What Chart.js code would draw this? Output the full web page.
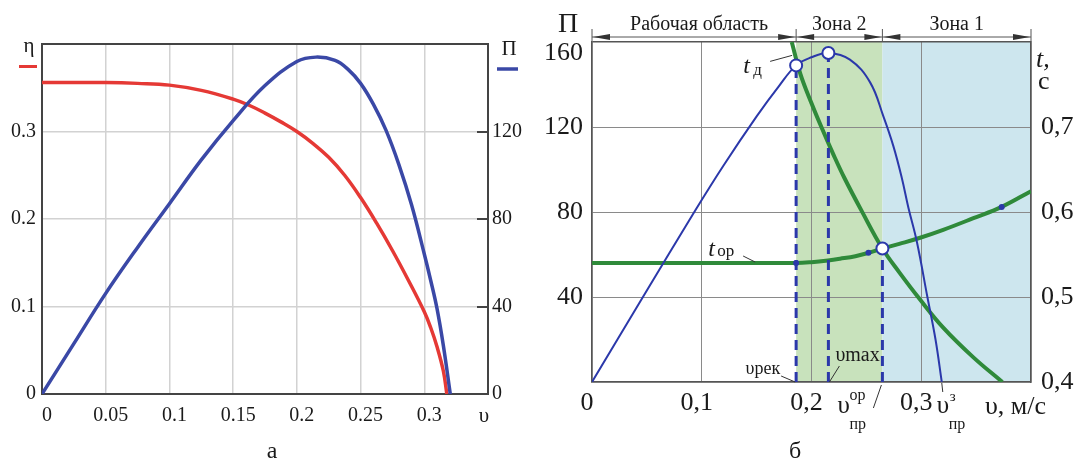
<!DOCTYPE html>
<html>
<head>
<meta charset="utf-8">
<script src="https://cdn.jsdelivr.net/npm/chart.js@4.4.1/dist/chart.umd.min.js"></script>
<style>
  html, body { margin: 0; padding: 0; background: #fff; }
  #wrap { position: relative; width: 1078px; height: 461px; overflow: hidden; }
  #cA { position: absolute; left: 0; top: 0; }
  #cB { position: absolute; left: 540px; top: 0; }
</style>
</head>
<body>
<div id="wrap">
  <canvas id="cA" width="540" height="461"></canvas>
  <canvas id="cB" width="538" height="461"></canvas>
</div>
<script>
/* ── chart а: η and П against υ ── */
var ETA_V = [0, 0.025, 0.05, 0.075, 0.1, 0.125, 0.15, 0.1625, 0.175, 0.1875, 0.2, 0.2125, 0.225, 0.2375, 0.25, 0.2625, 0.275, 0.2875, 0.3, 0.305, 0.31, 0.315, 0.3177];
var ETA   = [0.356, 0.356, 0.356, 0.355, 0.353, 0.347, 0.337, 0.330, 0.321, 0.311, 0.300, 0.2865, 0.2705, 0.2500, 0.2245, 0.1955, 0.164, 0.130, 0.094, 0.076, 0.054, 0.026, 0];

var PI_A_V = [0, 0.025, 0.05, 0.075, 0.1, 0.125, 0.15, 0.175, 0.2, 0.215, 0.23, 0.24, 0.25, 0.26, 0.27, 0.28, 0.29, 0.3, 0.305, 0.31, 0.315, 0.3204];
var PI_A   = [0, 23, 46, 67, 87, 107, 125, 141, 152, 154, 152.5, 148.5, 142, 132.5, 120.5, 105, 86.5, 64, 52, 39, 22, 0];

var X_LABELS_A = ['0', '0.05', '0.1', '0.15', '0.2', '0.25', '0.3', ''];
var Y_LABELS_A = ['0', '0.1', '0.2', '0.3', ''];
var P_LABELS_A = ['0', '40', '80', '120', ''];

/* ── chart б: П, t_ор, t_д against υ ── */
var PI_B_V = [0, 0.0464, 0.0932, 0.12, 0.15, 0.17, 0.186, 0.2, 0.2154, 0.235, 0.2534, 0.2655, 0.2746, 0.2823, 0.2883, 0.296, 0.3056, 0.313, 0.3187];
var PI_B   = [0, 40, 80, 102, 125, 139, 149, 152.8, 154.8, 151.7, 141, 125, 111, 96, 82, 66, 40, 20, 0];

var T_OR_V = [0, 0.1, 0.186, 0.2, 0.215, 0.226, 0.24, 0.2519, 0.2646, 0.28, 0.2997, 0.32, 0.3475, 0.3733, 0.4];
var T_OR   = [0.540, 0.540, 0.540, 0.541, 0.543, 0.545, 0.548, 0.552, 0.557, 0.5625, 0.570, 0.579, 0.5927, 0.606, 0.6245];

var T_D_V = [0.182, 0.19, 0.2, 0.21, 0.22, 0.23, 0.2458, 0.2646, 0.28, 0.298, 0.32, 0.3475, 0.3739];
var T_D   = [0.80, 0.762, 0.728, 0.697, 0.6675, 0.640, 0.601, 0.557, 0.529, 0.4985, 0.464, 0.429, 0.40];

var V_REK = 0.186, V_MAX = 0.2154, V_PR_OR = 0.2646, V_PR_Z = 0.3187;
var PI_REK = 149, PI_MAX = 154.8, T_PR_OR = 0.557;

var CIRC_P_V = [V_REK, V_MAX];
var CIRC_P   = [PI_REK, PI_MAX];
var DOT_V = [0.186, 0.2519, 0.3733];
var DOT_T = [0.540, 0.552, 0.606];

var ZONE_EDGES = [0, V_REK, V_PR_OR, 0.4];
var ZONE_NAMES = ['Рабочая область', 'Зона 2', 'Зона 1'];

var X_LABELS_B = ['0', '0,1', '0,2', '0,3', ''];
var P_LABELS_B = ['', '40', '80', '120', '160'];
var T_LABELS_B = ['0,4', '0,5', '0,6', '0,7', ''];

/* ── helpers ── */
var SERIF = '"Liberation Serif", "Times New Roman", serif';
var INK = '#1a1a1a';
var BLUE_A = '#3a48a6', RED_A = '#e53935';
var BLUE_B = '#2b38aa', GREEN_B = '#2f8a3a';
var ZONE_COLORS = [null, '#c8e2bc', '#cde6ee'];

Chart.defaults.font.family = SERIF;
Chart.defaults.color = INK;

function pts(xs, ys) {
  return xs.map(function(x, i) { return { x: x, y: ys[i] }; });
}
function near(a, b) { return Math.abs(a - b) < 1e-9; }

// frame lines (min / max ticks) darker than the inner grid
function edgeStyle(min, max, edge, inner) {
  return function(c) {
    var v = c.tick ? c.tick.value : NaN;
    return (near(v, min) || near(v, max)) ? edge : inner;
  };
}
function fixW(w) { return function(s) { s.width = w; }; }
function fixH(h) { return function(s) { s.height = h; }; }
function byIndex(list) { return function(v, i) { return list[i]; }; }

function text(ctx, s, x, y, size, align, italic, baseline) {
  ctx.font = (italic ? 'italic ' : '') + size + 'px ' + SERIF;
  ctx.textAlign = align || 'left';
  ctx.textBaseline = baseline || 'alphabetic';
  ctx.fillStyle = INK;
  ctx.fillText(s, x, y);
}
function seg(ctx, x1, y1, x2, y2, color, w) {
  ctx.beginPath();
  ctx.moveTo(x1, y1);
  ctx.lineTo(x2, y2);
  ctx.strokeStyle = color;
  ctx.lineWidth = w;
  ctx.stroke();
}

/* ── chart а ── */
var labelsA = {
  id: 'labelsA',
  afterDraw: function(chart) {
    var ctx = chart.ctx, a = chart.chartArea;
    ctx.save();
    text(ctx, 'η', a.left - 13, a.top + 8, 21, 'center');
    seg(ctx, a.left - 23, a.top + 22.5, a.left - 5, a.top + 22.5, RED_A, 3);
    text(ctx, 'П', a.right + 21, a.top + 11, 21, 'center');
    seg(ctx, a.right + 9, a.top + 25, a.right + 30, a.top + 25, BLUE_A, 3.5);
    text(ctx, 'υ', a.right - 4, a.bottom + 28, 21, 'center');
    text(ctx, 'а', 272, 458, 24, 'center');
    ctx.restore();
  }
};

new Chart(document.getElementById('cA'), {
  type: 'scatter',
  data: {
    datasets: [
      { label: 'П', data: pts(PI_A_V, PI_A), yAxisID: 'yP', showLine: true,
        borderColor: BLUE_A, borderWidth: 3.5, pointRadius: 0, tension: 0.4 },
      { label: 'η', data: pts(ETA_V, ETA), yAxisID: 'y', showLine: true,
        borderColor: RED_A, borderWidth: 3.5, pointRadius: 0, tension: 0.4 }
    ]
  },
  options: {
    responsive: false,
    animation: false,
    layout: { padding: { top: 44, left: 0, right: 0, bottom: 0 } },
    plugins: { legend: { display: false }, tooltip: { enabled: false } },
    scales: {
      x: {
        type: 'linear', min: 0, max: 0.35,
        ticks: { stepSize: 0.05, padding: 10, labelOffset: 5, font: { size: 20 }, callback: byIndex(X_LABELS_A) },
        grid: { color: edgeStyle(0, 0.35, '#444', '#d2d2d2'), lineWidth: edgeStyle(0, 0.35, 2, 1.5), drawTicks: false },
        border: { color: '#444', width: 2 },
        afterFit: fixH(67)
      },
      y: {
        position: 'left', min: 0, max: 0.4,
        ticks: { stepSize: 0.1, padding: 6, font: { size: 20 }, callback: byIndex(Y_LABELS_A) },
        grid: { color: edgeStyle(0, 0.4, '#444', '#d2d2d2'), lineWidth: edgeStyle(0, 0.4, 2, 1.5), drawTicks: false },
        border: { color: '#444', width: 2 },
        afterFit: fixW(42)
      },
      yP: {
        position: 'right', min: 0, max: 160,
        ticks: { stepSize: 40, padding: 15, font: { size: 20 }, callback: byIndex(P_LABELS_A) },
        grid: { drawOnChartArea: false, drawTicks: true, tickLength: -11, color: '#444', lineWidth: 2 },
        border: { color: '#444', width: 2 },
        afterFit: fixW(52)
      }
    }
  },
  plugins: [labelsA]
});

/* ── chart б ── */
var zonesB = {
  id: 'zonesB',
  beforeDraw: function(chart) {
    var ctx = chart.ctx, a = chart.chartArea, x = chart.scales.x;
    ctx.save();
    for (var i = 0; i < ZONE_NAMES.length; i++) {
      if (!ZONE_COLORS[i]) continue;
      var x1 = x.getPixelForValue(ZONE_EDGES[i]), x2 = x.getPixelForValue(ZONE_EDGES[i + 1]);
      ctx.fillStyle = ZONE_COLORS[i];
      ctx.fillRect(x1, a.top, x2 - x1, a.bottom - a.top);
    }
    ctx.restore();
  }
};

function arrowHead(ctx, tipX, y, dir) {
  ctx.beginPath();
  ctx.moveTo(tipX, y);
  ctx.lineTo(tipX + dir * 17, y - 3);
  ctx.lineTo(tipX + dir * 17, y + 3);
  ctx.closePath();
  ctx.fillStyle = '#333';
  ctx.fill();
}

var labelsB = {
  id: 'labelsB',
  afterDraw: function(chart) {
    var ctx = chart.ctx, a = chart.chartArea, x = chart.scales.x,
        yP = chart.scales.yP, yT = chart.scales.yT;
    ctx.save();

    // dimension line with zone names
    var ly = a.top - 5;
    var px = ZONE_EDGES.map(function(v) { return x.getPixelForValue(v); });
    seg(ctx, px[0], ly, px[px.length - 1], ly, '#555', 1);
    px.forEach(function(p) { seg(ctx, p, a.top - 13, p, a.top, '#555', 1); });
    for (var i = 0; i < ZONE_NAMES.length; i++) {
      arrowHead(ctx, px[i] + 1, ly, 1);
      arrowHead(ctx, px[i + 1] - 1, ly, -1);
      text(ctx, ZONE_NAMES[i], (px[i] + px[i + 1]) / 2 + (i === 0 ? 5 : 0), a.top - 12, 20, 'center');
    }

    // top П label sits a little below the frame line in the original
    text(ctx, P_LABELS_B[4], a.left - 9, yP.getPixelForValue(160) + 11, 26, 'right', false, 'middle');

    // axis titles
    text(ctx, 'П', a.left - 24, 32, 28, 'center');
    text(ctx, 't,', a.right + 5, 67, 26, 'left', true);
    text(ctx, 'с', a.right + 7, 89, 26, 'left');
    text(ctx, 'υ, м/с', a.right - 46, a.bottom + 32, 26, 'left');
    text(ctx, 'б', 255, 458, 24, 'center');

    // t_д
    var cx = x.getPixelForValue(V_REK), cy = yP.getPixelForValue(PI_REK);
    text(ctx, 't', cx - 53, cy + 8, 24, 'left', true);
    text(ctx, 'д', cx - 43, cy + 10, 17, 'left');
    seg(ctx, cx - 26, cy - 4, cx - 4, cy - 10, '#333', 1);

    // t_ор
    var ox = x.getPixelForValue(V_REK), oy = yT.getPixelForValue(T_OR[0]);
    text(ctx, 't', ox - 88, oy - 7, 24, 'left', true);
    text(ctx, 'ор', ox - 79, oy - 7, 17, 'left');
    seg(ctx, ox - 53, oy - 7, ox - 41, oy - 1, '#333', 1);

    // υрек
    var by = yP.getPixelForValue(0);
    var rx = x.getPixelForValue(V_REK);
    text(ctx, 'υрек', rx - 16, by - 8, 18, 'right');
    seg(ctx, rx - 15, by - 6, rx - 1, by, '#333', 1);

    // υmax
    var mx = x.getPixelForValue(V_MAX);
    text(ctx, 'υmax', mx + 7, by - 21, 20, 'left');
    seg(ctx, mx + 11, by - 16, mx + 1, by, '#333', 1);

    // υпр ор
    var qx = x.getPixelForValue(V_PR_OR);
    text(ctx, 'υ', qx - 45, by + 31, 25, 'left');
    text(ctx, 'ор', qx - 33, by + 18, 16, 'left');
    text(ctx, 'пр', qx - 33, by + 47, 16, 'left');
    seg(ctx, qx - 1, by + 3, qx - 9, by + 26, '#333', 1);

    // υпр з
    var zx = x.getPixelForValue(V_PR_Z);
    text(ctx, 'υ', zx - 5, by + 31, 25, 'left');
    text(ctx, 'з', zx + 8, by + 19, 15, 'left');
    text(ctx, 'пр', zx + 7, by + 47, 16, 'left');
    seg(ctx, zx, by + 1, zx + 1, by + 10, '#333', 1);

    ctx.restore();
  }
};

var circleStyle = { pointRadius: 6, pointBorderWidth: 2, pointBorderColor: BLUE_B, pointBackgroundColor: '#fff' };
function dashLine(v, top, axis, bottom) {
  return { data: [{ x: v, y: bottom }, { x: v, y: top }], yAxisID: axis, showLine: true,
           borderColor: BLUE_B, borderWidth: 3, borderDash: [10, 6], pointRadius: 0, tension: 0 };
}

new Chart(document.getElementById('cB'), {
  type: 'scatter',
  data: {
    datasets: [
      Object.assign({ data: pts(CIRC_P_V, CIRC_P), yAxisID: 'yP' }, circleStyle),
      Object.assign({ data: pts([V_PR_OR], [T_PR_OR]), yAxisID: 'yT' }, circleStyle),
      { data: pts(DOT_V, DOT_T), yAxisID: 'yT', pointRadius: 3, pointBorderWidth: 0, pointBackgroundColor: BLUE_B },
      dashLine(V_REK, PI_REK, 'yP', 0),
      dashLine(V_MAX, PI_MAX, 'yP', 0),
      dashLine(V_PR_OR, T_PR_OR, 'yT', 0.4),
      { label: 'П', data: pts(PI_B_V, PI_B), yAxisID: 'yP', showLine: true,
        borderColor: BLUE_B, borderWidth: 2, pointRadius: 0, tension: 0.4 },
      { label: 'tор', data: pts(T_OR_V, T_OR), yAxisID: 'yT', showLine: true,
        borderColor: GREEN_B, borderWidth: 4, pointRadius: 0, tension: 0.4 },
      { label: 'tд', data: pts(T_D_V, T_D), yAxisID: 'yT', showLine: true,
        borderColor: GREEN_B, borderWidth: 4, pointRadius: 0, tension: 0.4 }
    ]
  },
  options: {
    responsive: false,
    animation: false,
    layout: { padding: { top: 42, left: 0, right: 0, bottom: 0 } },
    plugins: { legend: { display: false }, tooltip: { enabled: false } },
    scales: {
      x: {
        type: 'linear', min: 0, max: 0.4,
        ticks: { stepSize: 0.1, padding: 6, labelOffset: -5, font: { size: 26 }, callback: byIndex(X_LABELS_B) },
        grid: { color: edgeStyle(0, 0.4, '#555', '#8a8a8a'), lineWidth: edgeStyle(0, 0.4, 1.5, 1), drawTicks: false },
        border: { color: '#555', width: 1.5 },
        afterFit: fixH(79)
      },
      yP: {
        position: 'left', min: 0, max: 160,
        ticks: { stepSize: 40, padding: 9, font: { size: 26 }, callback: function(v, i) { return i === 4 ? '' : P_LABELS_B[i]; } },
        grid: { color: edgeStyle(0, 160, '#555', '#8a8a8a'), lineWidth: edgeStyle(0, 160, 1.5, 1), drawTicks: false },
        border: { color: '#555', width: 1.5 },
        afterFit: fixW(52)
      },
      yT: {
        position: 'right', min: 0.4, max: 0.8,
        ticks: { stepSize: 0.1, padding: 10, font: { size: 26 }, callback: byIndex(T_LABELS_B) },
        grid: { drawOnChartArea: false, drawTicks: false },
        border: { color: '#555', width: 1.5 },
        afterFit: fixW(47)
      }
    }
  },
  plugins: [zonesB, labelsB]
});
</script>
</body>
</html>
